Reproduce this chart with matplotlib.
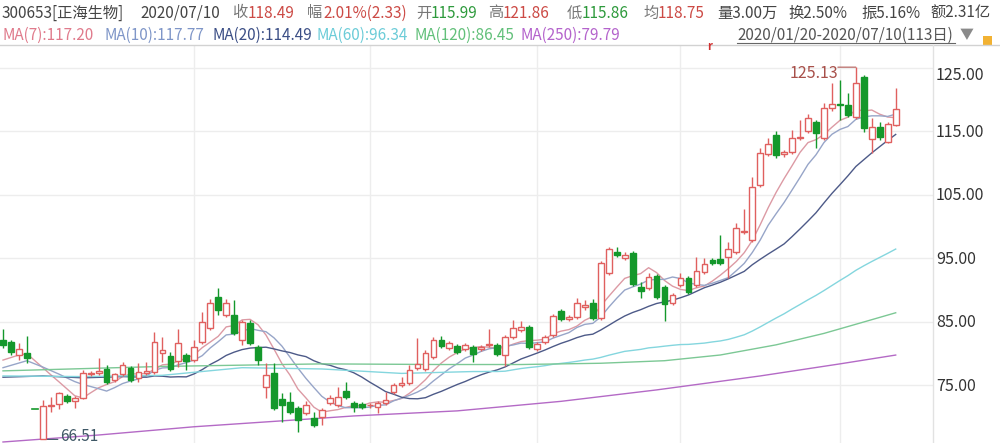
import matplotlib
matplotlib.use('Agg')
import matplotlib.pyplot as plt
import numpy as np
import pandas as pd
from matplotlib.patches import Rectangle
from matplotlib.lines import Line2D

plt.rcParams['font.family'] = ['Noto Sans CJK SC', 'DejaVu Sans']

# ---------------- data ----------------
opens = [82.17, 81.85, 79.80, 80.10, 71.37, 66.60, 71.70, 72.10, 73.35, 72.60,
         73.00, 76.80, 76.90, 77.60, 75.87, 76.80, 77.75, 76.20, 77.00, 77.10,
         80.10, 79.65, 78.86, 79.80, 79.00, 81.85, 84.05, 88.90, 86.10, 86.10,
         82.17, 84.80, 81.10, 74.76, 76.96, 72.90, 72.40, 71.46, 70.67, 69.90,
         70.04, 72.20, 71.93, 74.10, 72.25, 72.10, 71.90, 71.60, 72.25, 74.00,
         75.00, 75.40, 77.75, 77.60, 79.50, 82.17, 80.90, 81.20, 80.75, 81.10,
         80.75, 81.30, 81.40, 79.80, 82.60, 83.70, 84.20, 80.75, 81.85, 82.96,
         86.74, 85.47, 85.80, 87.40, 88.00, 85.60, 92.70, 96.00, 95.10, 95.87,
         90.50, 90.35, 92.20, 90.50, 88.00, 90.80, 91.90, 90.80, 92.90, 94.76,
         94.90, 95.20, 96.00, 99.20, 97.90, 106.60, 111.45, 114.45, 111.50, 111.80,
         113.90, 115.10, 116.50, 113.97, 118.70, 119.30, 119.20, 117.30, 123.60, 113.80,
         115.70, 113.35, 115.99]
highs = [83.90, 82.20, 81.70, 82.80, 71.37, 72.72, 73.20, 74.00, 73.60, 73.30,
         77.40, 77.30, 79.30, 78.20, 77.00, 78.70, 78.00, 78.50, 78.70, 83.40,
         82.60, 80.30, 83.90, 80.10, 82.17, 86.60, 88.60, 90.30, 88.60, 88.50,
         85.30, 85.30, 81.40, 78.50, 78.50, 73.80, 74.00, 71.80, 72.50, 70.80,
         71.40, 73.50, 74.76, 75.55, 72.50, 72.40, 72.30, 72.50, 73.98, 75.40,
         76.40, 78.20, 82.50, 80.60, 82.65, 82.80, 82.00, 81.50, 81.70, 81.40,
         81.40, 83.90, 81.70, 82.90, 85.30, 85.15, 84.50, 81.80, 82.90, 86.30,
         87.00, 86.10, 88.80, 88.50, 88.60, 94.60, 96.80, 96.80, 96.00, 96.10,
         91.30, 92.70, 92.50, 90.80, 89.60, 92.70, 92.20, 95.20, 95.10, 95.00,
         98.70, 97.60, 100.60, 102.80, 107.80, 112.40, 114.00, 115.10, 112.10, 115.20,
         116.80, 117.80, 116.80, 119.50, 122.60, 123.10, 121.10, 125.13, 123.90, 117.10,
         116.50, 116.50, 121.86]
lows = [80.90, 79.80, 79.00, 78.50, 71.37, 66.51, 70.80, 71.30, 72.30, 71.50,
        72.80, 76.50, 76.60, 75.30, 75.60, 76.50, 75.60, 75.55, 76.70, 76.80,
        78.70, 77.30, 77.90, 77.40, 78.70, 81.50, 83.80, 86.10, 85.80, 83.00,
        81.40, 81.40, 78.20, 73.00, 71.20, 69.25, 70.50, 67.70, 70.30, 68.50,
        68.80, 71.90, 71.60, 72.90, 70.80, 71.30, 71.50, 70.70, 72.00, 73.70,
        74.80, 75.10, 77.40, 77.30, 79.20, 80.90, 80.60, 80.00, 80.50, 78.70,
        80.40, 81.00, 79.60, 78.10, 82.30, 83.40, 80.80, 80.50, 81.60, 82.70,
        85.20, 85.20, 85.50, 86.90, 85.30, 85.30, 92.40, 95.20, 94.80, 90.70,
        88.80, 90.00, 88.60, 85.15, 87.70, 90.50, 89.40, 90.50, 92.60, 94.00,
        94.00, 91.90, 95.70, 98.90, 97.60, 106.30, 111.10, 110.90, 111.00, 111.50,
        113.60, 114.80, 112.40, 113.60, 118.30, 116.80, 117.30, 117.00, 114.90, 111.60,
        113.70, 113.20, 115.86]
closes = [81.38, 80.28, 80.75, 79.30, 71.37, 71.77, 71.90, 73.80, 72.56, 73.00,
          76.90, 77.00, 77.30, 75.55, 76.80, 78.20, 75.90, 77.10, 77.30, 81.85,
          80.60, 77.60, 81.70, 78.86, 81.10, 85.00, 88.00, 86.90, 88.00, 83.30,
          85.00, 81.70, 79.00, 76.65, 71.46, 71.90, 70.80, 69.57, 71.93, 68.80,
          71.10, 73.00, 73.20, 73.20, 71.60, 71.60, 72.00, 72.25, 72.70, 75.10,
          75.40, 77.40, 78.40, 80.10, 82.17, 81.20, 81.70, 80.30, 81.40, 79.96,
          81.10, 81.50, 79.96, 82.60, 84.05, 84.20, 81.10, 81.50, 82.60, 85.95,
          85.47, 85.80, 88.00, 87.60, 85.60, 94.30, 96.50, 95.55, 95.50, 90.98,
          89.90, 92.10, 88.90, 87.80, 89.30, 91.90, 89.70, 93.00, 94.10, 94.30,
          94.30, 96.50, 99.80, 99.40, 106.30, 111.60, 113.00, 111.30, 111.70, 114.00,
          114.10, 117.10, 114.80, 118.70, 119.30, 119.20, 117.60, 122.60, 115.55, 115.70,
          114.10, 116.16, 118.49]

ma7_head_idx = [0, 1, 2, 3, 4, 5]
ma7_head_val = [79.0, 79.4, 79.8, 80.0, 78.9, 77.8]
ma10_head_idx = [0, 3, 5, 7, 8]
ma10_head_val = [77.8, 78.9, 77.9, 76.8, 76.2]
ma20_head_idx = [0, 5, 10, 15, 18]
ma20_head_val = [76.3, 76.5, 76.2, 76.4, 76.3]
ma60_head_idx = [0, 10, 20, 30, 40, 50]
ma60_head_val = [76.5, 76.4, 76.6, 77.8, 77.6, 76.9]
ma120_idx = [0, 20, 40, 55, 65, 75, 83, 90, 97, 103, 108, 112]
ma120_val = [77.3, 78.0, 78.4, 78.3, 78.3, 78.5, 78.9, 79.8, 81.4, 83.2, 85.0, 86.45]
ma250_idx = [0, 12, 24, 37, 44, 57, 70, 82, 95, 105, 112]
ma250_val = [66.1, 67.2, 68.5, 69.6, 70.2, 71.0, 72.5, 74.3, 76.5, 78.4, 79.79]

price_ticks = [125, 115, 105, 95, 85, 75]
price_labels = ['125.00', '115.00', '105.00', '95.00', '85.00', '75.00']
month_start_idx = [24, 46, 67, 85, 105]
max_idx, max_label = 107, '125.13'
min_idx, min_label = 5, '66.51'

header1 = [('300653[正海生物]', 'k'), ('2020/07/10', 'k'), ('收', 'g'), ('118.49', 'r'),
           ('幅', 'g'), ('2.01%(2.33)', 'r'), ('开', 'g'), ('115.99', 'G'),
           ('高', 'g'), ('121.86', 'r'), ('低', 'g'), ('115.86', 'G'),
           ('均', 'g'), ('118.75', 'r'), ('量3.00万', 'k'), ('换2.50%', 'k'),
           ('振5.16%', 'k'), ('额2.31亿', 'k')]
header1_x = [2, 140, 232, 248, 307, 323, 416, 431, 488, 503, 567, 582, 643, 658, 717, 788, 861, 930]
ma_labels = ['MA(7):117.20', 'MA(10):117.77', 'MA(20):114.49', 'MA(60):96.34',
             'MA(120):86.45', 'MA(250):79.79']
ma_label_x = [2, 104, 213, 316, 414, 520]
range_label = '2020/01/20-2020/07/10(113日)'

# ---------------- style ----------------
RED = '#e0605f'
GREEN = '#14982b'
TXT_RED = '#cc4a45'
TXT_GREEN = '#2e9a3c'
ma_colors = ['#e07b8c', '#7f96c8', '#3c4f86', '#6cccd8', '#62c07a', '#b463cc']
ma_line_colors = ['#dc9aa4', '#97a5c8', '#4d5a88', '#84d6de', '#7cc895', '#b46ac6']
FS = 11

W, H = 1000, 443
fig = plt.figure(figsize=(W / 100, H / 100), dpi=100)
fig.patch.set_facecolor('white')

top_px = 45
plot_right_px = 933
ax = fig.add_axes([0, 0, plot_right_px / W, (H - top_px) / H])
ax.set_xlim(-0.376, 116.68)
ax.set_ylim(65.94, 128.62)
for s in ax.spines.values():
    s.set_visible(False)
ax.set_xticks([])
ax.set_yticks([])

for p in price_ticks:
    ax.axhline(p, color='#ededed', lw=1, zorder=0)
for m in month_start_idx:
    ax.axvline(m, color='#ededed', lw=1, zorder=0)

n = len(closes)
idx = np.arange(n)
cs = pd.Series(closes)

def ma_line(head_idx, head_val, win):
    comp = cs.rolling(win).mean()
    start = win - 1
    xs = list(head_idx) + list(range(start, n))
    ys = list(head_val) + list(comp.iloc[start:])
    return xs, ys

lines = [ma_line(ma7_head_idx, ma7_head_val, 7),
         ma_line(ma10_head_idx, ma10_head_val, 10),
         ma_line(ma20_head_idx, ma20_head_val, 20),
         ma_line(ma60_head_idx, ma60_head_val, 60),
         (ma120_idx, ma120_val),
         (ma250_idx, ma250_val)]
for (xs, ys), c in zip(lines, ma_line_colors):
    ax.plot(xs, ys, color=c, lw=1.0, zorder=2)

bw = 0.72
for i in range(n):
    o, h, l, c = opens[i], highs[i], lows[i], closes[i]
    if c > o:
        up = True
    elif c < o:
        up = False
    else:
        up = i > 0 and c >= closes[i - 1]
    col = RED if up else GREEN
    lo_b, hi_b = min(o, c), max(o, c)
    ax.plot([i, i], [hi_b, h], color=col, lw=1, zorder=3, solid_capstyle='butt')
    ax.plot([i, i], [l, lo_b], color=col, lw=1, zorder=3, solid_capstyle='butt')
    if hi_b - lo_b < 0.05:
        ax.plot([i - bw / 2, i + bw / 2], [c, c], color=col, lw=1.2, zorder=4)
    else:
        ax.add_patch(Rectangle((i - bw / 2, lo_b), bw, hi_b - lo_b,
                               facecolor='white' if up else col, edgecolor=col,
                               lw=1, zorder=4))

# max / min annotations
ax.annotate('', xy=(max_idx, highs[max_idx]), xytext=(-18, 0), textcoords='offset pixels',
            arrowprops=dict(arrowstyle='-', color='#b05a55', lw=0.8, shrinkA=0, shrinkB=0))
ax.annotate(max_label, xy=(max_idx, highs[max_idx]), xytext=(-18, -6), textcoords='offset pixels',
            ha='right', va='center', fontsize=FS + 0.5, color='#a8504a')
ax.annotate('', xy=(min_idx, lows[min_idx]), xytext=(15, 0), textcoords='offset pixels',
            arrowprops=dict(arrowstyle='-', color='#3f5866', lw=0.8, shrinkA=0, shrinkB=0))
ax.annotate(min_label, xy=(min_idx, lows[min_idx]), xytext=(17, 3), textcoords='offset pixels',
            ha='left', va='center', fontsize=FS, color='#3f5866')

# price axis labels
ytr = ax.get_yaxis_transform()
for p, lab in zip(price_ticks, price_labels):
    dy = -8 if p == price_ticks[0] else -1
    ax.annotate(lab, xy=(1, p), xycoords=ytr, xytext=(3, dy), textcoords='offset pixels',
                ha='left', va='center', fontsize=FS + 0.5, color='#333333', annotation_clip=False)

# frame lines
fig.add_artist(Line2D([0, 1], [1 - top_px / H, 1 - top_px / H], color='#d2d2d2', lw=1))
fig.add_artist(Line2D([plot_right_px / W] * 2, [0, 1 - top_px / H], color='#e2e2e2', lw=1))

def ftext(x, y, s, color, fs=FS, **kw):
    fig.text(x / W, 1 - y / H, s, color=color, fontsize=fs, ha='left', va='center', **kw)

cmap = {'k': '#444444', 'g': '#777777', 'r': TXT_RED, 'G': TXT_GREEN}
for (s, c), x in zip(header1, header1_x):
    ftext(x, 13, s, cmap[c])
for s, x, c in zip(ma_labels, ma_label_x, ma_colors):
    ftext(x, 35, s, c)
ftext(737, 35, range_label, '#555555')
fig.add_artist(Line2D([737 / W, 955 / W], [1 - 43 / H] * 2, color='#666666', lw=0.8))
ftext(960, 35, '▼', '#8a8a8a', fs=10)
fig.add_artist(Rectangle((983 / W, 1 - 45 / H), 9 / W, 9 / H, transform=fig.transFigure,
                         facecolor='#f2b233', edgecolor='none'))
ftext(707, 46, 'r', '#d03030', fs=8, fontweight='bold')

fig.savefig('out.png', dpi=100, facecolor='white')
